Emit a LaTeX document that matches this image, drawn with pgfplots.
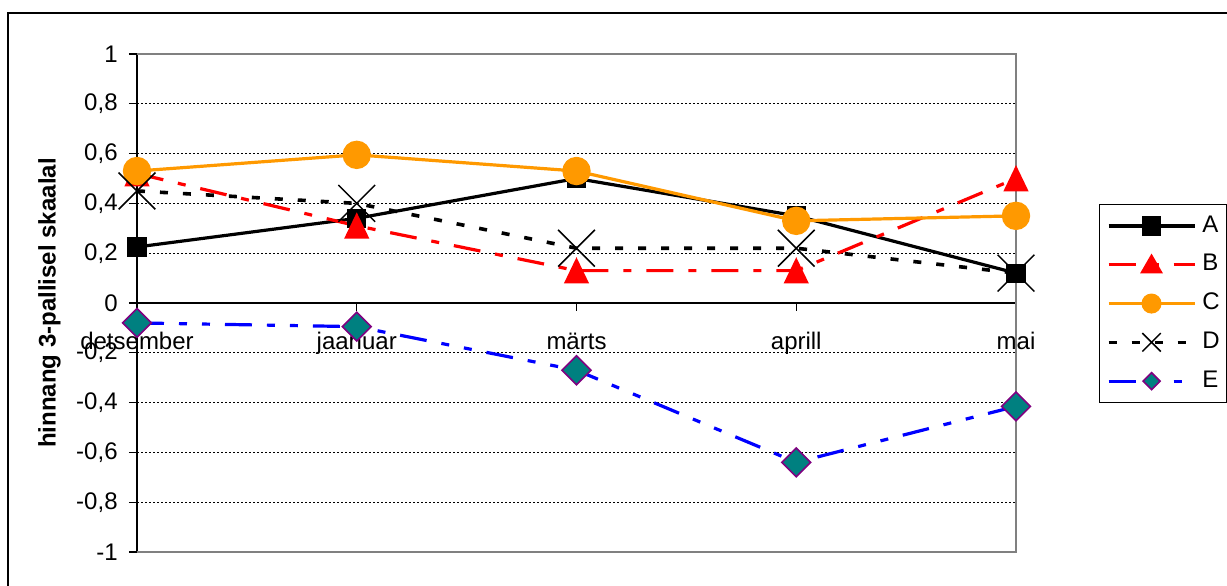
\documentclass[border=0pt]{standalone}
\usepackage{pgfplots}
\pgfplotsset{compat=1.18}
\usepackage{fontspec}
\setmainfont{Liberation Sans}

\definecolor{cOrange}{HTML}{FF9900}
\definecolor{cTeal}{HTML}{008080}
\definecolor{cPurple}{HTML}{800080}
\definecolor{cFrame}{HTML}{808080}

% dash patterns of the series
\tikzset{
  lgdashdot/.style={dash pattern=on 13.5bp off 7.5bp on 4bp off 7.5bp},
  lgdashdotdot/.style={dash pattern=on 13.5bp off 7.5bp on 4bp off 7.5bp on 4bp off 7.5bp},
  sqdot/.style={dash pattern=on 4bp off 7.5bp},
}

\begin{document}
\begin{tikzpicture}
\useasboundingbox (-68.5bp,-17bp) rectangle (545bp,276bp);
% outer chart border
\draw[line width=0.75bp] (-64.5bp,-30bp) -- (-64.5bp,269.5bp) -- (560bp,269.5bp);
\begin{axis}[
  at={(0,0)}, anchor=south west,
  scale only axis, width=439.5bp, height=249bp,
  xmin=0, xmax=4, ymin=-1, ymax=1,
  clip=false,
  axis x line=middle, axis y line=left,
  x axis line style={-, black, line width=0.6bp},
  y axis line style={-, black, line width=0.6bp},
  hide obscured x ticks=false, hide obscured y ticks=false,
  tick align=outside, major tick length=4bp,
  tick style={black, line width=0.6bp},
  xtick={0,1,2,3,4},
  xticklabels={detsember,jaanuar,märts,aprill,mai},
  ytick={-1,-0.8,-0.6,-0.4,-0.2,0,0.2,0.4,0.6,0.8,1},
  yticklabel={\pgfmathprintnumber[fixed,precision=1,use comma,assume math mode=true]{\tick}},
  tick label style={font=\fontsize{12bp}{14bp}\selectfont},
  xticklabel style={anchor=base, inner sep=0pt, yshift=-19bp},
  yticklabel style={anchor=east, inner sep=0pt, xshift=-5.5bp},
  ymajorgrids,
  major grid style={black, line width=0.5bp, dash pattern=on 1bp off 1bp},
  ylabel={hinnang 3-pallisel skaalal},
  every axis y label/.style={at={(axis description cs:-0.0927,0.5)}, rotate=90, anchor=base,
    font=\bfseries\fontsize{12bp}{14bp}\selectfont},
  legend style={at={(axis description cs:1.0944,0.6988)}, anchor=north west,
    draw=black, line width=0.75bp, fill=white,
    font=\fontsize{12bp}{14bp}\selectfont,
    inner xsep=3.5bp, inner ysep=5bp, row sep=8.2bp,
    nodes={inner sep=0pt, text height=8.7bp, text depth=2.5bp},
    /tikz/every odd column/.append style={column sep=3bp}},
  legend cell align=left,
  legend image code/.code={\draw[mark repeat=2,mark phase=2,#1]
    plot coordinates {(0bp,0bp) (21.5bp,0bp) (43bp,0bp)};},
]
% plot area frame
\draw[cFrame, line width=0.75bp] (rel axis cs:0,0) -- (rel axis cs:1,0)
  -- (rel axis cs:1,1) -- (rel axis cs:0,1);

% A
\addplot[forget plot, black, line width=1.6bp, mark=square*, mark size=4bp,
  mark options={solid}] coordinates {(0,0.225) (1,0.34) (2,0.50) (3,0.35) (4,0.12)};
% B
\addplot[forget plot, red, line width=1.6bp, lgdashdot, mark=triangle*, mark size=5.8bp,
  mark options={solid, yscale=1.2, yshift=-1.75bp}] coordinates {(0,0.52) (1,0.31) (2,0.13) (3,0.13) (4,0.50)};
% C
\addplot[forget plot, cOrange, line width=1.6bp, mark=*, mark size=6.3bp,
  mark options={solid}] coordinates {(0,0.53) (1,0.595) (2,0.53) (3,0.33) (4,0.35)};
% D
\addplot[forget plot, black, line width=1.8bp, sqdot, mark=x, mark size=13bp,
  mark options={solid, line width=0.75bp}] coordinates {(0,0.45) (1,0.40) (2,0.22) (3,0.22) (4,0.12)};
% E
\addplot[forget plot, blue, line width=1.6bp, lgdashdotdot, mark=square*, mark size=5.1bp,
  mark options={solid, rotate=45, draw=cPurple, fill=cTeal, line width=0.8bp}]
  coordinates {(0,-0.08) (1,-0.095) (2,-0.27) (3,-0.64) (4,-0.415)};

% legend samples (markers drawn smaller than in the plot)
\addlegendimage{black, line width=1.6bp, mark=square*, mark size=4bp, mark options={solid}}
\addlegendimage{red, line width=1.6bp, lgdashdot, mark=triangle*, mark size=5bp,
  mark options={solid, yshift=-1bp}}
\addlegendimage{cOrange, line width=1.6bp, mark=*, mark size=4.2bp, mark options={solid}}
\addlegendimage{black, line width=1.8bp, sqdot, mark=x, mark size=6.5bp,
  mark options={solid, line width=0.75bp}}
\addlegendimage{blue, line width=1.6bp, lgdashdotdot, mark=square*, mark size=3bp,
  mark options={solid, rotate=45, draw=cPurple, fill=cTeal, line width=0.8bp}}
\legend{A,B,C,D,E}
\end{axis}
\end{tikzpicture}
\end{document}
